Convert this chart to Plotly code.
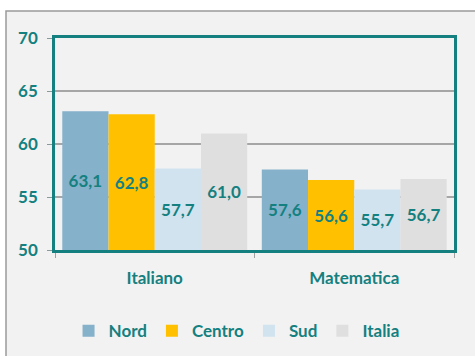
import plotly.graph_objects as go

# Punteggi medi per area geografica
categories = ["Italiano", "Matematica"]
series_names = ["Nord", "Centro", "Sud", "Italia"]
nord = [63.1, 57.6]
centro = [62.8, 56.6]
sud = [57.7, 55.7]
italia = [61.0, 56.7]
y_ticks = [50, 55, 60, 65, 70]

series_values = [nord, centro, sud, italia]
colors = ["#85B1CB", "#FFC000", "#D0E3EF", "#DFDFDF"]

TEAL = "#148080"
FONT = "Lato"
Y_MIN = 50

fig = go.Figure()
for name, vals, col in zip(series_names, series_values, colors):
    # le barre partono dal minimo dell'asse: altezza = valore - minimo
    fig.add_trace(go.Bar(
        name=name,
        x=categories,
        y=[v - Y_MIN for v in vals],
        base=Y_MIN,
        marker=dict(color=col, line=dict(width=0)),
        text=[f"{v:.1f}".replace(".", ",") for v in vals],
        textposition="inside",
        insidetextanchor="middle",
        textangle=0,
        textfont=dict(family=FONT, size=17, color=TEAL, weight="bold"),
        hovertemplate="%{x}: %{text}<extra>" + name + "</extra>",
    ))

fig.update_layout(
    width=475,
    height=356,
    barmode="group",
    bargap=0.073,
    bargroupgap=0,
    paper_bgcolor="white",
    plot_bgcolor="#F2F2F2",
    margin=dict(l=55, r=21, t=38, b=106, autoexpand=False),
    font=dict(family=FONT, size=17, color=TEAL),
    uniformtext=dict(mode=False),
    legend=dict(
        orientation="h",
        x=0.455,
        xanchor="center",
        y=-0.383,
        yanchor="middle",
        bgcolor="rgba(0,0,0,0)",
        font=dict(family=FONT, size=17, color=TEAL, weight="bold"),
    ),
    shapes=[
        # cornice esterna del grafico
        dict(
            type="rect", xref="paper", yref="paper",
            x0=-0.1228, x1=1.3, y0=-0.7, y1=1.127,
            fillcolor="#F2F2F2",
            line=dict(color="#9A9A9A", width=1.5),
            layer="below",
        ),
    ],
)

fig.update_yaxes(
    range=[Y_MIN, 70],
    tickvals=y_ticks,
    showgrid=True,
    gridcolor="#A6A6A6",
    gridwidth=1.5,
    showline=True,
    linecolor=TEAL,
    linewidth=2.5,
    mirror=True,
    ticks="outside",
    ticklen=5,
    tickcolor="#8A9A9A",
    ticklabelstandoff=6,
    tickfont=dict(family=FONT, size=17, color=TEAL, weight="bold"),
    zeroline=False,
)
fig.update_xaxes(
    showline=True,
    linecolor=TEAL,
    linewidth=2.5,
    mirror=True,
    ticks="outside",
    tickson="boundaries",
    ticklen=5,
    tickcolor="#A0A0A0",
    ticklabelstandoff=11,
    tickfont=dict(family=FONT, size=17, color=TEAL, weight="bold"),
)

fig.write_html("out.html")
